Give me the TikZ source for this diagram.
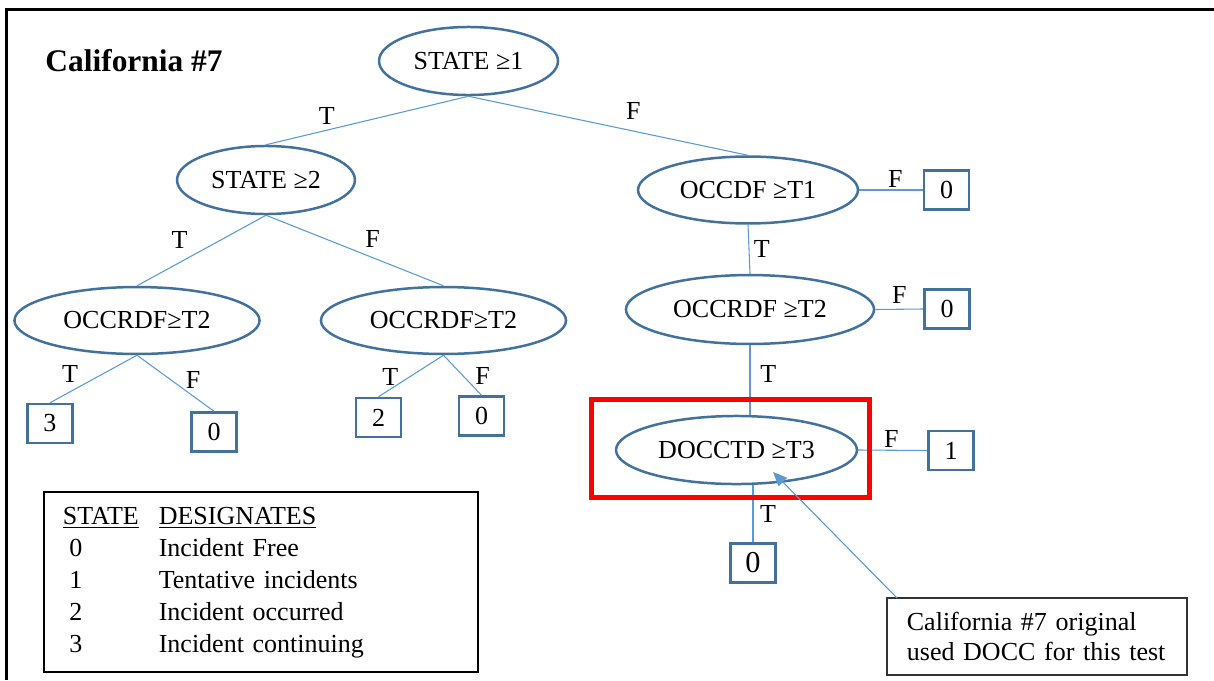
\documentclass[tikz,border=0pt]{standalone}
\usepackage{fontspec}
\setmainfont{Liberation Serif}
\usetikzlibrary{arrows.meta, shapes.geometric}

\definecolor{nodeblue}{HTML}{41719C}
\definecolor{lineblue}{HTML}{5B9BD5}

\begin{document}
\begin{tikzpicture}[x=0.4615pt,y=-0.4615pt,>={Triangle[length=6.5pt,width=5.5pt]},
  every node/.style={font=\fontsize{12}{14.8}\selectfont},
  test/.style={ellipse,draw=nodeblue,line width=1.15pt,inner sep=0pt},
  leaf/.style={rectangle,draw=nodeblue,line width=1.15pt,inner sep=0pt,
    minimum width=20.8pt,minimum height=18pt},
  branch/.style={draw=lineblue,line width=0.5pt,nodes={inner sep=1pt}},
  textbox/.style={rectangle,draw=black!80,line width=0.7pt,align=left}]
  \useasboundingbox (0,0) rectangle (1214,680);
  \draw[line width=1.4pt] (1214,9.5) -- (6.7,9.5) -- (6.7,680);

  \node[anchor=west,inner sep=0pt,font=\bfseries\fontsize{14.5}{17}\selectfont] (title) at (45,61) {California \#7};

  % tests
  \node[test,minimum width=82.6pt,minimum height=31.4pt] (s1) at (468.5,61) {STATE ≥1};
  \node[test,minimum width=82.1pt,minimum height=31.4pt] (s2) at (266,180) {STATE ≥2};
  \node[test,minimum width=101.5pt,minimum height=30.9pt] (c1) at (748,190) {OCCDF ≥T1};
  \node[test,minimum width=113.1pt,minimum height=30.9pt] (l) at (137,320.5) {OCCRDF≥T2};
  \node[test,minimum width=113.1pt,minimum height=30.9pt] (m) at (443.5,320.5) {OCCRDF≥T2};
  \node[test,minimum width=114.5pt,minimum height=31.8pt] (r) at (750,309.5) {OCCRDF ≥T2};
  \node[test,minimum width=111.2pt,minimum height=31.4pt] (d) at (736.5,450) {DOCCTD ≥T3};

  % results
  \node[leaf] (c1F) at (946.5,190) {0};
  \node[leaf] (rF) at (947,309) {0};
  \node[leaf] (dF) at (951,450.5) {1};
  \node[leaf,font=\fontsize{14}{16}\selectfont] (dT) at (753,563) {0};
  \node[leaf] (lT) at (50,423.5) {3};
  \node[leaf] (lF) at (214,432) {0};
  \node[leaf] (mT) at (378.5,417.5) {2};
  \node[leaf] (mF) at (481.5,416) {0};

  \path[branch]
    (s1.south) edge node[pos=.7,above=1.5pt] {T} (s2.north)
               edge node[pos=.59,above=4.3pt] {F} (c1.north)
    (s2.south) edge node[pos=.67,above=5.2pt] {T} (l.north)
               edge node[pos=.6,above=3.3pt] {F} (m.north)
    (l.south) edge node[pos=.77,above=3pt] {T} (lT.north)
              edge node[pos=.73,above=2.4pt] {F} (lF.north)
    (m.south) edge node[pos=.82,above=.6pt] {T} (mT.north)
              edge node[pos=.51,right=4.5pt] {F} (mF.north)
    (c1.south) edge node[midway,right=1pt] {T} (r.north)
    (c1.east) edge node[pos=.57,above=0pt] {F} (c1F.west)
    (r.south) edge node[pos=.42,right=3.5pt] {T} (r.south |- d.north)
    (r.east) edge node[midway,above=1.5pt] {F} (rF.west)
    (d.south -| dT.north) edge node[midway,right=2pt] {T} (dT.north)
    (d.east) edge node[pos=.48,above=0pt] {F} (dF.west);

  % highlight of the changed test
  \draw[red,line width=2.3pt] (591.5,399.5) rectangle (869.5,497.5);

  % legend
  \node[textbox,draw=black,anchor=north west,inner xsep=8.8pt,text width=182.7pt,
    minimum height=83.1pt] (legend) at (43,491) {%
    \begin{tabular}{@{}p{44.3pt}@{}l@{}}
      \underline{STATE} & \underline{DESIGNATES}\\
      \hspace{3pt}0 & Incident Free\\
      \hspace{3pt}1 & Tentative incidents\\
      \hspace{3pt}2 & Incident occurred\\
      \hspace{3pt}3 & Incident continuing
    \end{tabular}};

  % note
  \node[textbox,inner xsep=9.2pt,text width=120.1pt,minimum height=35.5pt,
    font=\fontsize{12}{13.8}\selectfont] (note) at (1037,636.5)
    {California \#7 original\\used DOCC for this test};
  \coordinate (tail) at (897,598);
  \coordinate (tip) at (773,472);
  \draw[->,draw=lineblue,fill=lineblue,line width=0.5pt] (tail) -- (tip);
\end{tikzpicture}
\end{document}
